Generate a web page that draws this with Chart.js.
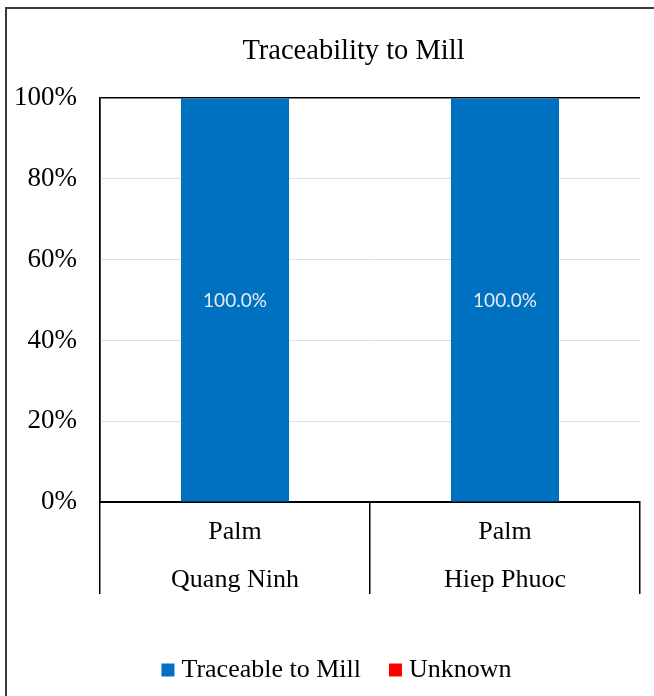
<!DOCTYPE html>
<html>
<head>
<meta charset="utf-8">
<script src="https://cdn.jsdelivr.net/npm/chart.js@4.4.0/dist/chart.umd.min.js"></script>
<style>
  html, body { margin: 0; padding: 0; background: #fff; }
  #frame { position: absolute; left: 5px; top: 7px; width: 700px; height: 700px;
           border-left: 2px solid #3a3a3a; border-top: 2px solid #3a3a3a; }
  #wrap { position: absolute; left: 0; top: 0; width: 654px; height: 696px; }
</style>
</head>
<body>
<div id="frame"></div>
<div id="wrap"><canvas id="myChart" width="654" height="696"></canvas></div>
<script>
// categorieen en waarden
const products = ['Palm', 'Palm'];
const sites = ['Quang Ninh', 'Hiep Phuoc'];
const traceable = [100, 100];
const unknown = [0, 0];
const yTicks = [0, 20, 40, 60, 80, 100];

const serif = 'Liberation Serif, Times New Roman, serif';

// Data labels in het midden van de staaf
const barLabels = {
    id: 'barLabels',
    afterDatasetsDraw(chart) {
        const { ctx } = chart;
        const meta = chart.getDatasetMeta(0);
        meta.data.forEach((bar, i) => {
            const value = chart.data.datasets[0].data[i];
            if (!value) return;
            const { x, y, base } = bar.getProps(['x', 'y', 'base'], true);
            ctx.save();
            ctx.fillStyle = '#e6ebf0';
            ctx.font = '19px Lato, sans-serif';
            ctx.textAlign = 'center';
            ctx.textBaseline = 'middle';
            ctx.fillText(value.toFixed(1) + '%', x, (y + base) / 2 + 1);
            ctx.restore();
        });
    }
};

// titel en legenda iets naar rechts centreren (zoals in Excel)
const shiftBlocks = {
    id: 'shiftBlocks',
    afterLayout(chart) {
        if (chart.titleBlock) chart.titleBlock.left = 67;
        if (chart.legend) chart.legend.left = 39;
    }
};

new Chart(document.getElementById('myChart').getContext('2d'), {
    type: 'bar',
    data: {
        labels: products.map((p, i) => [p, sites[i]]),
        datasets: [{
            label: 'Traceable to Mill',
            data: traceable,
            backgroundColor: '#0070C0',
            categoryPercentage: 0.8,
            barPercentage: 0.5
        }, {
            label: 'Unknown',
            data: unknown,
            backgroundColor: '#FF0000',
            categoryPercentage: 0.8,
            barPercentage: 0.5
        }]
    },
    options: {
        responsive: false,
        animation: false,
        layout: { padding: { left: 0, right: 14, top: 0, bottom: 3 } },
        plugins: {
            title: {
                display: true,
                text: 'Traceability to Mill',
                color: '#000',
                font: { family: serif, size: 28.5, weight: 'normal' },
                padding: { top: 34, bottom: 30 }
            },
            legend: {
                position: 'bottom',
                labels: {
                    color: '#000',
                    font: { family: serif, size: 26 },
                    usePointStyle: true,
                    pointStyle: 'rect',
                    boxWidth: 1,
                    boxHeight: 13,
                    padding: 34
                }
            },
            tooltip: { enabled: false }
        },
        scales: {
            x: {
                stacked: true,
                afterFit: (scale) => { scale.height = 121; },
                grid: {
                    offset: true,
                    color: (c) => (c.index === 0 || c.index === products.length) ? '#000' : 'rgba(0,0,0,0)',
                    tickColor: '#000',
                    tickLength: 92,
                    lineWidth: 1.5,
                    tickWidth: 1.5
                },
                border: { color: '#000', width: 2 },
                ticks: {
                    color: '#000',
                    padding: -86,
                    font: { family: serif, size: 26, lineHeight: 1.85 }
                }
            },
            y: {
                stacked: true,
                min: 0,
                max: 100,
                afterFit: (scale) => { scale.width = 100; },
                afterBuildTicks: (scale) => { scale.ticks = yTicks.map(v => ({ value: v })); },
                grid: {
                    color: (c) => c.tick && c.tick.value === 100 ? '#000' : '#e0e0e0',
                    lineWidth: (c) => c.tick && c.tick.value === 100 ? 1.5 : 1,
                    drawTicks: false
                },
                border: { color: '#000', width: 1.5 },
                ticks: {
                    color: '#000',
                    padding: 23,
                    font: { family: serif, size: 27 },
                    callback: (v) => v + '%'
                }
            }
        }
    },
    plugins: [barLabels, shiftBlocks]
});
</script>
</body>
</html>
